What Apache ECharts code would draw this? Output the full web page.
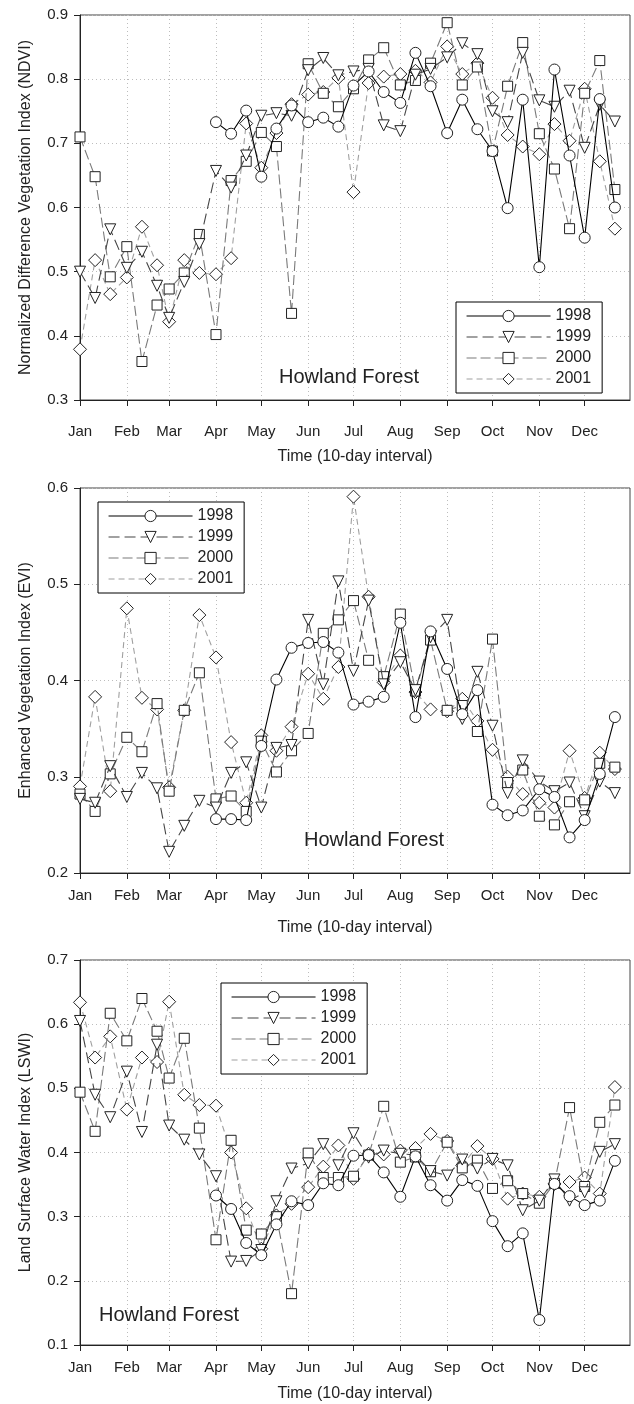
<!DOCTYPE html>
<html><head><meta charset="utf-8">
<script src="https://cdn.jsdelivr.net/npm/echarts@6/dist/echarts.min.js"></script>
<style>html,body{margin:0;padding:0;background:#fff}#c{width:634px;height:1404px}</style>
</head><body><div id="c"></div><script>
// ---- data ----
const monthLabels = ['Jan','Feb','Mar','Apr','May','Jun','Jul','Aug','Sep','Oct','Nov','Dec'];
const monthStartDays = [1,32,60,91,121,152,182,213,244,274,305,335];
const dekadOffsets = [0,10,20];
const years = ['1998','1999','2000','2001'];

const ndvi1998 = [null,null,null,null,null,null,null,null,null,
  0.733,0.715,0.751,0.648,0.723,0.759,0.733,0.740,0.726,0.790,0.812,0.780,0.763,0.841,0.789,
  0.716,0.768,0.722,0.688,0.599,0.768,0.507,0.815,0.681,0.553,0.769,0.600];
const ndvi1999 = [0.500,0.459,0.566,0.506,0.531,0.478,0.428,0.484,0.543,0.657,0.631,0.681,
  0.743,0.747,0.743,0.814,0.833,0.806,0.812,0.816,0.728,0.719,0.807,0.816,
  0.834,0.856,0.839,0.750,0.733,0.841,0.767,0.757,0.782,0.693,0.760,0.734];
const ndvi2000 = [0.710,0.648,0.492,0.539,0.360,0.448,0.473,0.498,0.558,0.402,0.642,0.672,
  0.717,0.695,0.435,0.824,0.778,0.757,0.785,0.830,0.849,0.791,0.798,0.825,
  0.888,0.791,0.819,0.688,0.789,0.857,0.715,0.660,0.567,0.778,0.829,0.628];
const ndvi2001 = [0.379,0.518,0.465,0.491,0.570,0.510,0.422,0.518,0.498,0.496,0.521,0.731,
  0.662,0.716,0.761,0.776,0.780,0.802,0.624,0.794,0.804,0.808,0.813,0.795,
  0.851,0.808,0.825,0.771,0.713,0.695,0.683,0.730,0.704,0.785,0.672,0.567];

const evi1998 = [null,null,null,null,null,null,null,null,null,
  0.256,0.256,0.255,0.332,0.401,0.434,0.439,0.440,0.429,0.375,0.378,0.383,0.460,0.362,0.451,
  0.412,0.365,0.390,0.271,0.260,0.265,0.287,0.279,0.237,0.255,0.303,0.362];
const evi1999 = [0.277,0.273,0.311,0.279,0.304,0.288,0.222,0.249,0.275,0.268,0.304,0.315,
  0.268,0.330,0.333,0.463,0.396,0.503,0.410,0.483,0.396,0.419,0.390,0.445,
  0.463,0.360,0.409,0.353,0.283,0.317,0.295,0.285,0.294,0.259,0.295,0.283];
const evi2000 = [0.282,0.264,0.303,0.341,0.326,0.376,0.285,0.369,0.408,0.277,0.280,0.264,
  0.337,0.305,0.327,0.345,0.449,0.463,0.483,0.421,0.404,0.469,0.389,0.442,
  0.369,0.374,0.347,0.443,0.294,0.307,0.259,0.250,0.274,0.276,0.314,0.310];
const evi2001 = [0.290,0.383,0.285,0.475,0.382,0.370,0.289,0.369,0.468,0.424,0.336,0.273,
  0.343,0.327,0.352,0.407,0.381,0.414,0.591,0.487,0.398,0.426,0.388,0.370,
  0.368,0.381,0.358,0.328,0.300,0.282,0.273,0.268,0.327,0.278,0.325,0.308];

const lswi1998 = [null,null,null,null,null,null,null,null,null,
  0.333,0.312,0.259,0.240,0.288,0.324,0.318,0.352,0.349,0.395,0.396,0.369,0.331,0.394,0.349,
  0.325,0.357,0.348,0.293,0.254,0.274,0.139,0.351,0.332,0.318,0.325,0.387];
const lswi1999 = [0.605,0.490,0.455,0.526,0.432,0.568,0.442,0.420,0.397,0.363,0.230,0.231,
  0.248,0.324,0.375,0.383,0.413,0.380,0.430,0.392,0.403,0.398,0.396,0.371,
  0.364,0.389,0.375,0.390,0.380,0.310,0.325,0.358,0.325,0.338,0.401,0.413];
const lswi2000 = [0.494,0.433,0.617,0.574,0.640,0.589,0.516,0.578,0.438,0.264,0.419,0.279,
  0.273,0.300,0.180,0.399,0.361,0.361,0.363,0.396,0.472,0.385,0.393,0.370,
  0.416,0.376,0.388,0.344,0.356,0.336,0.321,0.352,0.470,0.347,0.447,0.474];
const lswi2001 = [0.634,0.548,0.581,0.467,0.548,0.541,0.635,0.490,0.474,0.473,0.400,0.313,
  0.250,0.302,0.320,0.346,0.378,0.411,0.359,0.398,0.397,0.403,0.407,0.429,
  0.418,0.380,0.410,0.390,0.328,0.336,0.331,0.351,0.354,0.361,0.336,0.502];

const panels = [
  {name:'Normalized Difference Vegetation Index (NDVI)', min:0.3, max:0.9, series:[ndvi1998,ndvi1999,ndvi2000,ndvi2001]},
  {name:'Enhanced Vegetation Index (EVI)', min:0.2, max:0.6, series:[evi1998,evi1999,evi2000,evi2001]},
  {name:'Land Surface Water Index (LSWI)', min:0.1, max:0.7, series:[lswi1998,lswi1999,lswi2000,lswi2001]}
];

// ---- layout / style ----
const FONT = 'Liberation Sans, Arial, sans-serif';
const grids = [
  {left:80, width:550, top:15, height:385},
  {left:80, width:550, top:488, height:385},
  {left:80, width:550, top:960, height:385}
];
const xLabelMargin = [24, 15, 15];
const xNameGap = [49, 47, 41];
const legendPos = [{left:456, top:302},{left:98, top:502},{left:221, top:983}];
const sitePos = [[349,377],[374,840],[169,1315]];
const styles = [
  {symbol:'circle', size:11, rotate:0, color:'#000', type:'solid'},
  {symbol:'triangle', size:11, rotate:180, color:'#454545', type:[11,5]},
  {symbol:'rect', size:10, rotate:0, color:'#7a7a7a', type:[10,4]},
  {symbol:'diamond', size:13, rotate:0, color:'#a0a0a0', type:[6,4]}
];

const xDays = monthStartDays.flatMap(d => dekadOffsets.map(o => d + o));

const option = {
  animation:false,
  backgroundColor:'#fff',
  textStyle:{fontFamily:FONT},
  grid: grids.map(g => Object.assign({show:true, borderColor:'#444', borderWidth:1, backgroundColor:'transparent', outerBoundsMode:'none'}, g)),
  xAxis: panels.map((p,i) => ({
    type:'value', gridIndex:i, min:1, max:365,
    name:'Time (10-day interval)', nameLocation:'middle', nameGap:xNameGap[i],
    nameTextStyle:{fontSize:16, color:'#222', fontFamily:FONT},
    axisLine:{lineStyle:{color:'#222', width:1}},
    axisTick:{show:true, length:6, customValues:monthStartDays, lineStyle:{color:'#222'}},
    axisLabel:{customValues:monthStartDays, margin:xLabelMargin[i], fontSize:15, color:'#222', fontFamily:FONT,
      formatter: v => monthLabels[monthStartDays.indexOf(v)] || ''},
    splitLine:{show:true, lineStyle:{color:'#bdbdbd', type:[1,3], width:1}}
  })),
  yAxis: panels.map((p,i) => ({
    type:'value', gridIndex:i, min:p.min, max:p.max, interval:0.1,
    name:p.name, nameLocation:'middle', nameGap:46,
    nameTextStyle:{fontSize:16, color:'#222', fontFamily:FONT},
    axisLine:{show:true, lineStyle:{color:'#222', width:1}},
    axisTick:{show:true, length:6, lineStyle:{color:'#222'}},
    axisLabel:{margin:12, fontSize:15, color:'#222', fontFamily:FONT, formatter: v => v.toFixed(1)},
    splitLine:{show:true, lineStyle:{color:'#bdbdbd', type:[1,3], width:1}}
  })),
  legend: panels.map((p,i) => ({
    orient:'vertical', left:legendPos[i].left, top:legendPos[i].top,
    data:years, itemWidth:84, itemHeight:14, itemGap:5,
    padding:[6,11,6,10], backgroundColor:'#fff', borderColor:'#000', borderWidth:1, borderRadius:0,
    selectedMode:false,
    lineStyle:{width:1.1},
    itemStyle:{borderWidth:1},
    textStyle:{fontSize:16, color:'#222', fontFamily:FONT}
  })),
  graphic: sitePos.map(pt => ({
    type:'text', x:pt[0], y:pt[1], z:100,
    style:{text:'Howland Forest', fontSize:20, fontFamily:FONT, fill:'#222', textAlign:'center', textVerticalAlign:'middle'}
  })),
  series: []
};

panels.forEach((p,i) => {
  p.series.forEach((vals,k) => {
    const s = styles[k];
    option.series.push({
      type:'line', name:years[k], xAxisIndex:i, yAxisIndex:i,
      data: xDays.map((d,j) => [d, vals[j]]),
      symbol:s.symbol, symbolSize:s.size, symbolRotate:s.rotate, showAllSymbol:true,
      lineStyle:{color:s.color, width:1.1, type:s.type},
      itemStyle:{color:'#fff', borderColor:'#222', borderWidth:1},
      emphasis:{disabled:true},
      z: 2 + (3-k)
    });
  });
});

const chart = echarts.init(document.getElementById('c'), null, {renderer:'canvas'});
chart.setOption(option);
</script></body></html>
